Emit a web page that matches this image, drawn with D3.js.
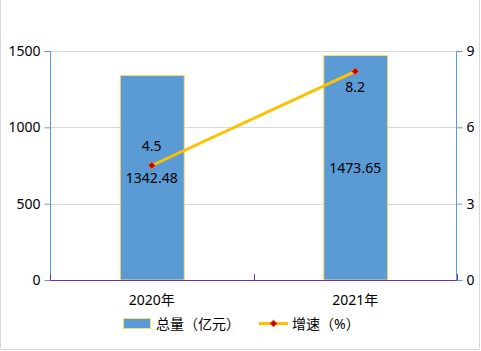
<!DOCTYPE html>
<html><head><meta charset="utf-8">
<script src="https://cdn.jsdelivr.net/npm/d3@7"></script>
<style>
html,body{margin:0;padding:0;background:#fff;}
svg{display:block;font-family:"Noto Sans","Noto Sans CJK SC",sans-serif;}
</style></head>
<body>
<svg id="c" width="481" height="351"></svg>
<script>
const categories = ["2020年", "2021年"];
const totals = [1342.48, 1473.65];
const growth = [4.5, 8.2];
const leftTicks = [0, 500, 1000, 1500];
const rightTicks = [0, 3, 6, 9];
const seriesNames = ["总量（亿元）", "增速（%）"];

const W = 481, H = 351;
const m = {left: 50, right: 457, top: 51, bottom: 280};
const svg = d3.select("#c");
const FS = 14;

// frame
svg.append("path").attr("d", `M0.5,0 V${H-1.5} H${W-1.5} V0`).attr("fill","none").attr("stroke","#d9d9d9").attr("stroke-width",1);

const x = d3.scaleBand().domain(categories).range([m.left, m.right]).paddingInner(0).paddingOuter(0);
const yL = d3.scaleLinear().domain([0,1500]).range([m.bottom, m.top]);
const yR = d3.scaleLinear().domain([0,9]).range([m.bottom, m.top]);

// gridlines
svg.append("g").selectAll("line").data(leftTicks.filter(d=>d>0)).join("line")
  .attr("x1", m.left).attr("x2", m.right)
  .attr("y1", d=>Math.round(yL(d))+0.5).attr("y2", d=>Math.round(yL(d))+0.5)
  .attr("stroke","#d9d9d9").attr("stroke-width",1);

// bars
const bw = 64;
svg.append("g").selectAll("rect").data(totals).join("rect")
  .attr("x", (d,i)=>x(categories[i]) + x.bandwidth()/2 - bw/2 + 0.5)
  .attr("y", d=>yL(d)+0.5)
  .attr("width", bw)
  .attr("height", d=>m.bottom - yL(d) - 0.5)
  .attr("fill","#5b9bd5").attr("stroke","#ffd966").attr("stroke-width",1);

// left axis
const gL = svg.append("g").attr("transform", `translate(${m.left+0.5},0)`)
  .call(d3.axisLeft(yL).tickValues(leftTicks).tickSize(6).tickPadding(4).tickFormat(d3.format("d")));
gL.select(".domain").attr("stroke","#5b9bd5").attr("d", `M-6,${m.top+0.5}H0V${m.bottom}`);
gL.selectAll(".tick line").attr("stroke","#5b9bd5");
gL.selectAll(".tick text").attr("font-size",FS).attr("fill","#000").attr("font-family","Noto Sans");

// right axis
const gR = svg.append("g").attr("transform", `translate(${m.right-0.5},0)`)
  .call(d3.axisRight(yR).tickValues(rightTicks).tickSize(6).tickPadding(4));
gR.select(".domain").attr("stroke","#5b9bd5").attr("d", `M6,${m.top+0.5}H0V${m.bottom}`);
gR.selectAll(".tick line").attr("stroke","#5b9bd5");
gR.selectAll(".tick text").attr("font-size",FS).attr("fill","#000").attr("font-family","Noto Sans");

// category axis
const gB = svg.append("g");
gB.append("line").attr("x1", m.left).attr("x2", m.right).attr("y1", m.bottom+0.5).attr("y2", m.bottom+0.5)
  .attr("stroke","#7030a0").attr("stroke-width",1.2);
const bounds = [m.left, ...categories.map(c=>x(c)+x.bandwidth())];
gB.selectAll("line.t").data(bounds).join("line").attr("class","t")
  .attr("x1", d=>Math.round(d)+0.5).attr("x2", d=>Math.round(d)+0.5)
  .attr("y1", m.bottom).attr("y2", m.bottom-6).attr("stroke","#7030a0");
gB.selectAll("text").data(categories).join("text")
  .attr("x", d=>x(d)+x.bandwidth()/2).attr("y", 305)
  .attr("text-anchor","middle").attr("font-size",FS).attr("fill","#000").text(d=>d);

// bar labels (centered)
svg.append("g").selectAll("text").data(totals).join("text")
  .attr("x",(d,i)=>x(categories[i])+x.bandwidth()/2)
  .attr("y", d=>(yL(d)+m.bottom)/2 + 5)
  .attr("text-anchor","middle").attr("font-size",FS).attr("fill","#000")
  .text(d=>d3.format(".2f")(d));

// line
const pts = growth.map((g,i)=>[x(categories[i])+x.bandwidth()/2, yR(g)]);
svg.append("path").attr("d", d3.line()(pts)).attr("fill","none")
  .attr("stroke","#ffc000").attr("stroke-width",3);
const diamond = d3.symbol().type(d3.symbolSquare).size(26);
svg.append("g").selectAll("path").data(pts).join("path")
  .attr("transform", d=>`translate(${d[0]},${d[1]}) rotate(45)`)
  .attr("d", diamond).attr("fill","#c00000").attr("stroke","#ff7f27").attr("stroke-width",0.8);

// line labels: first above, second below
svg.append("g").selectAll("text").data(growth).join("text")
  .attr("x",(d,i)=>pts[i][0])
  .attr("y",(d,i)=> i===0 ? pts[i][1]-15 : pts[i][1]+21)
  .attr("text-anchor","middle").attr("font-size",FS).attr("fill","#000")
  .text(d=>d);

// legend
const lg = svg.append("g");
lg.append("rect").attr("x",123.5).attr("y",318.5).attr("width",27).attr("height",10)
  .attr("fill","#5b9bd5").attr("stroke","#ffd966");
lg.append("text").attr("x",156).attr("y",328.5).attr("font-size",FS).attr("fill","#000").text(seriesNames[0]);
lg.append("line").attr("x1",259).attr("x2",288).attr("y1",323.5).attr("y2",323.5)
  .attr("stroke","#ffc000").attr("stroke-width",3);
lg.append("path").attr("transform","translate(273.5,323.5) rotate(45)").attr("d",diamond)
  .attr("fill","#c00000").attr("stroke","#ff7f27").attr("stroke-width",0.8);
lg.append("text").attr("x",292).attr("y",328.5).attr("font-size",FS).attr("fill","#000").text(seriesNames[1]);
</script>
</body></html>
